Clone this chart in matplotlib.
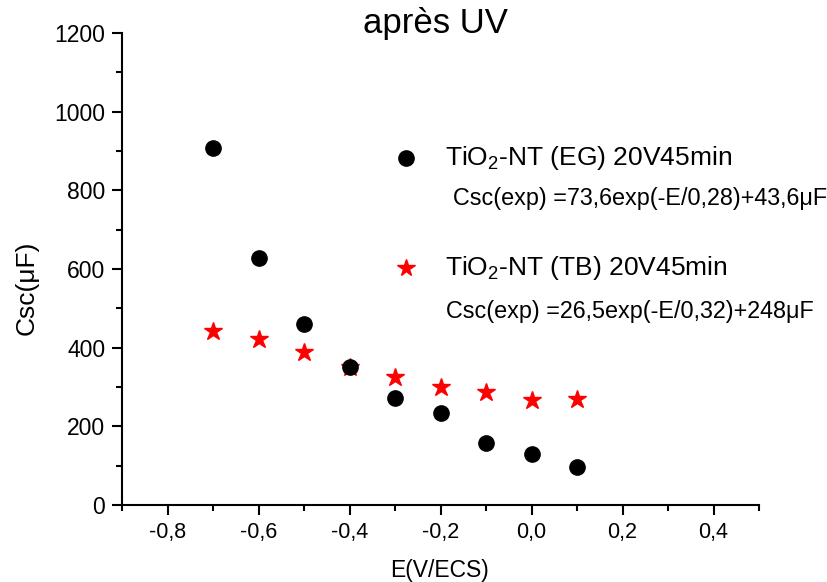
import matplotlib
matplotlib.use("Agg")
import matplotlib.pyplot as plt
from matplotlib.ticker import MultipleLocator, FuncFormatter

plt.rcParams['font.family'] = ['Liberation Sans', 'DejaVu Sans']
plt.rcParams['mathtext.fontset'] = 'custom'
plt.rcParams['mathtext.rm'] = 'Liberation Sans'
plt.rcParams['mathtext.it'] = 'Liberation Sans:italic'
plt.rcParams['mathtext.bf'] = 'Liberation Sans:bold'

# Potential (V vs ECS) and space-charge capacitance (µF)
potential = [-0.7, -0.6, -0.5, -0.4, -0.3, -0.2, -0.1, 0.0, 0.1]
csc_eg = [908, 627, 459, 351, 271, 233, 157, 129, 96]
csc_tb = [442, 422, 389, 350, 325, 299, 287, 267, 269]

label_eg = "TiO$_2$-NT (EG) 20V45min"
label_tb = "TiO$_2$-NT (TB) 20V45min"
fit_eg = "Csc(exp) =73,6exp(-E/0,28)+43,6\u03bcF"
fit_tb = "Csc(exp) =26,5exp(-E/0,32)+248\u03bcF"

fig = plt.figure(figsize=(8.27, 5.82), dpi=100)
ax = fig.add_axes([122 / 827, 77 / 582, 637 / 827, 472 / 582])

ax.plot(potential, csc_eg, linestyle='none', marker='o', markersize=11,
        color='black', zorder=3)
ax.plot(potential, csc_tb, linestyle='none', marker='*', markersize=13.5,
        color='red', markeredgecolor='red', zorder=2)

ax.set_xlim(-0.9, 0.5)
ax.set_ylim(0, 1200)
ax.xaxis.set_major_locator(MultipleLocator(0.2))
ax.xaxis.set_minor_locator(MultipleLocator(0.1))
ax.yaxis.set_major_locator(MultipleLocator(200))
ax.yaxis.set_minor_locator(MultipleLocator(100))
ax.xaxis.set_major_formatter(FuncFormatter(lambda v, p: f"{v:.1f}".replace('.', ',').replace('-0,0', '0,0')))
ax.yaxis.set_major_formatter(FuncFormatter(lambda v, p: f"{int(round(v))}"))

for side in ('top', 'right'):
    ax.spines[side].set_visible(False)
for side in ('left', 'bottom'):
    ax.spines[side].set_linewidth(1.5)

ax.tick_params(which='major', direction='out', length=7, width=1.5, pad=5)
ax.tick_params(which='minor', direction='out', length=4, width=1.5)
ax.tick_params(axis='x', labelsize=15.5)
ax.tick_params(axis='y', labelsize=16.5)

ax.set_xlabel("E(V/ECS)", fontsize=16.5, va='center')
ax.xaxis.set_label_coords((440 - 122) / 637, -65 / 472)
ax.set_ylabel("Csc(\u03bcF)", fontsize=19, va='center')
ax.yaxis.set_label_coords((27 - 122) / 637, 0.46)

fig.text(435 / 827, 1 - 24 / 582, "après UV", fontsize=25,
         ha='center', va='center')

# Series key with fitted equations
def ax_x(px):
    return (px - 122) / 637

ax.plot([ax_x(406)], [0.735], transform=ax.transAxes, marker='o', markersize=11,
        color='black', linestyle='none', clip_on=False)
ax.plot([ax_x(406)], [0.502], transform=ax.transAxes, marker='*', markersize=13,
        color='red', linestyle='none', clip_on=False)
ax.text(ax_x(445), 0.735, label_eg, transform=ax.transAxes, fontsize=19,
        ha='left', va='center')
ax.text(ax_x(453), 0.650, fit_eg, transform=ax.transAxes, fontsize=16.8,
        ha='left', va='center')
ax.text(ax_x(445), 0.502, label_tb, transform=ax.transAxes, fontsize=19,
        ha='left', va='center')
ax.text(ax_x(446), 0.411, fit_tb, transform=ax.transAxes, fontsize=16.8,
        ha='left', va='center')

fig.savefig("out.png", dpi=100)
